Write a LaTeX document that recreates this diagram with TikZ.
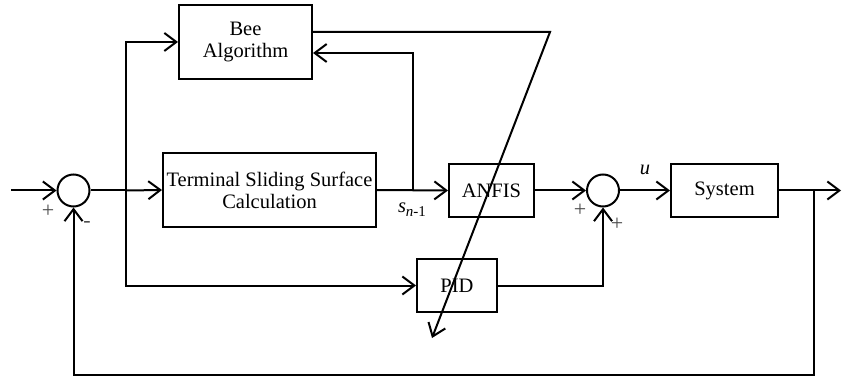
\documentclass[tikz,border=0pt]{standalone}
\usepackage{fontspec}
\setmainfont{Liberation Serif}
\usetikzlibrary{arrows.meta,calc}
\begin{document}
\begin{tikzpicture}[x=1pt,y=-1pt,
  line width=2pt,
  every node/.style={font=\fontsize{20.5}{22}\selectfont},
  blk/.style={draw,rectangle,inner sep=0pt,align=center},
  sumc/.style={draw,circle,minimum size=32pt,inner sep=0pt},
  sgn/.style={font=\fontsize{22}{22}\selectfont,text=black!70},
  arr/.style={-{Straight Barb[length=12pt,width=18pt,line width=2pt]}}]
\useasboundingbox (0,0) rectangle (842,379);
% blocks
\node[sumc] (sum1) at (73.5,190.5) {};
\node[sumc] (sum2) at (603,190.5) {};
\node[blk,minimum width=213pt,minimum height=74pt] (tss) at (269.5,190) {Terminal Sliding Surface\\Calculation};
\node[blk,minimum width=133pt,minimum height=74pt] (bee) at (245.5,42) {Bee\\Algorithm};
\node[blk,minimum width=85pt,minimum height=53pt] (anfis) at (491.5,190.5) {ANFIS};
\node[blk,minimum width=107pt,minimum height=53pt] (sys) at (724.5,190.5) {System};
\node[blk,minimum width=80pt,minimum height=53pt] (pid) at (457,285.5) {PID};
% coordinates
\coordinate (in) at (11,190.5);
\coordinate (out) at (841,190.5);
\coordinate (br) at (126,190.5);
\coordinate (sbr) at (413,190.5);
\coordinate (ybr) at (814,190.5);
\coordinate (fb) at (814,375);
\coordinate (kink) at (550,32);
\coordinate (tip) at (432,338);
% connectors
\draw[arr] (in) -- (sum1.west);
\draw (sum1.east) -- (br);
\draw[arr] (br) -- (tss.west);
\draw[arr] (br) |- (bee.west);
\draw[arr] (br) |- (pid.west);
\draw[arr] (tss.east) -- (anfis.west);
\draw[arr] (sbr) |- ($(bee.east)+(0,11)$);
\draw[arr] ($(bee.east)+(0,-10)$) -- (kink) -- (tip);
\draw[arr] (anfis.east) -- (sum2.west);
\draw[arr] (pid.east) -| (sum2.south);
\draw[arr] (sum2.east) -- (sys.west);
\draw[arr] (sys.east) -- (out);
\draw[arr] (ybr) -- (fb) -| (sum1.south);
% labels
\node[sgn] (p1) at (48,211) {+};
\node[sgn] (m1) at (87,224) {-};
\node[sgn] (p2) at (580,210) {+};
\node[sgn] (p3) at (617,224) {+};
\node (u) at (645,170) {\itshape u};
\node (sn) at (412,210) {\itshape s\raisebox{-0.45ex}{\fontsize{15}{15}\selectfont\itshape n\upshape -1}};
\end{tikzpicture}
\end{document}
